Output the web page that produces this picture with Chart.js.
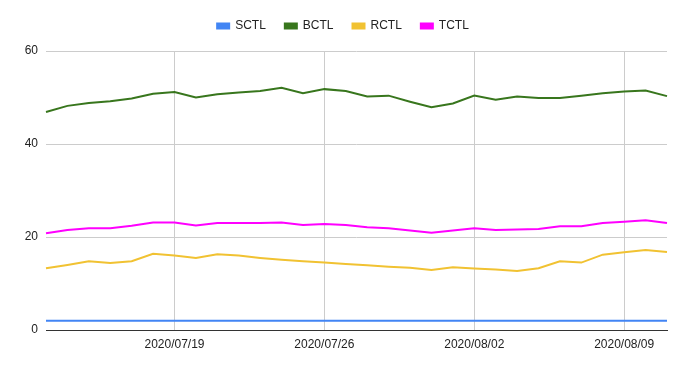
<!DOCTYPE html>
<html>
<head>
<meta charset="utf-8">
<script src="https://cdn.jsdelivr.net/npm/chart.js@4"></script>
<style>
  html, body { margin: 0; padding: 0; background: #fff; }
  #wrap { width: 686px; height: 369px; }
</style>
</head>
<body>
<div id="wrap"><canvas id="myChart"></canvas></div>
<script>
var dates = ['2020/07/13', '2020/07/14', '2020/07/15', '2020/07/16', '2020/07/17', '2020/07/18',
  '2020/07/19', '2020/07/20', '2020/07/21', '2020/07/22', '2020/07/23', '2020/07/24', '2020/07/25',
  '2020/07/26', '2020/07/27', '2020/07/28', '2020/07/29', '2020/07/30', '2020/07/31', '2020/08/01',
  '2020/08/02', '2020/08/03', '2020/08/04', '2020/08/05', '2020/08/06', '2020/08/07', '2020/08/08',
  '2020/08/09', '2020/08/10', '2020/08/11'];
var tickDates = ['2020/07/19', '2020/07/26', '2020/08/02', '2020/08/09'];

var sctl = [2, 2, 2, 2, 2, 2, 2, 2, 2, 2, 2, 2, 2, 2, 2, 2, 2, 2, 2, 2, 2, 2, 2, 2, 2, 2, 2, 2, 2, 2];
var bctl = [46.9, 48.2, 48.8, 49.2, 49.8, 50.8, 51.2, 50.0, 50.7, 51.1, 51.4, 52.1, 50.9, 51.8, 51.4,
  50.2, 50.4, 49.1, 47.9, 48.7, 50.4, 49.5, 50.2, 49.9, 49.9, 50.4, 50.9, 51.3, 51.5, 50.3];
var rctl = [13.3, 14.0, 14.8, 14.4, 14.8, 16.4, 16.0, 15.5, 16.3, 16.0, 15.5, 15.1, 14.8, 14.5, 14.2,
  13.9, 13.6, 13.4, 12.9, 13.5, 13.2, 13.0, 12.7, 13.3, 14.8, 14.5, 16.2, 16.7, 17.2, 16.8];
var tctl = [20.8, 21.5, 21.9, 21.9, 22.4, 23.1, 23.1, 22.5, 23.0, 23.0, 23.0, 23.1, 22.6, 22.8, 22.6,
  22.1, 21.9, 21.4, 20.9, 21.4, 21.9, 21.5, 21.6, 21.7, 22.3, 22.3, 23.0, 23.3, 23.6, 23.0];

function isTick(i) {
  return tickDates.indexOf(dates[i]) !== -1;
}

function line(label, data, color) {
  return {
    label: label,
    data: data,
    borderColor: color,
    backgroundColor: color,
    borderWidth: 2,
    pointRadius: 0,
    tension: 0,
    fill: false
  };
}

// more room under the legend, and center it on the whole canvas
var legendFix = {
  id: 'legendFix',
  afterInit: function(chart) {
    var fit = chart.legend.fit;
    chart.legend.fit = function() {
      fit.call(this);
      this.height += 9;
    };
  },
  afterLayout: function(chart) {
    chart.legend.left = 0;
    chart.legend.right = chart.width;
    chart.legend.width = chart.width;
  }
};

Chart.defaults.font.family = "'Liberation Sans', Arial, sans-serif";
Chart.defaults.font.size = 12;
Chart.defaults.color = '#222';

var ctx = document.getElementById('myChart').getContext('2d');
var myChart = new Chart(ctx, {
  type: 'line',
  data: {
    labels: dates,
    datasets: [
      line('SCTL', sctl, '#4285f4'),
      line('BCTL', bctl, '#38761d'),
      line('RCTL', rctl, '#f1c232'),
      line('TCTL', tctl, '#ff00ff')
    ]
  },
  plugins: [legendFix],
  options: {
    responsive: true,
    maintainAspectRatio: false,
    animation: false,
    layout: { padding: { left: 0, right: 19, top: 1, bottom: 0 } },
    plugins: {
      legend: {
        position: 'top',
        align: 'center',
        labels: {
          boxWidth: 12,
          boxHeight: 5,
          padding: 19,
          color: '#222'
        }
      },
      tooltip: { enabled: false }
    },
    scales: {
      x: {
        offset: false,
        afterFit: function(scale) { scale.height = 39; },
        border: { display: true, color: '#333', width: 1 },
        grid: {
          drawTicks: false,
          color: function(c) { return isTick(c.index) ? '#cccccc' : 'rgba(0,0,0,0)'; }
        },
        ticks: {
          autoSkip: false,
          maxRotation: 0,
          padding: 7,
          color: '#222',
          callback: function(v, i) { return isTick(i) ? dates[i] : ''; }
        }
      },
      y: {
        min: 0,
        max: 60,
        afterFit: function(scale) { scale.width = 46; },
        border: { display: false },
        grid: {
          drawTicks: false,
          color: function(c) { return c.tick && c.tick.value === 0 ? '#333' : '#cccccc'; }
        },
        ticks: {
          stepSize: 20,
          padding: 8,
          color: '#222'
        }
      }
    }
  }
});
</script>
</body>
</html>
